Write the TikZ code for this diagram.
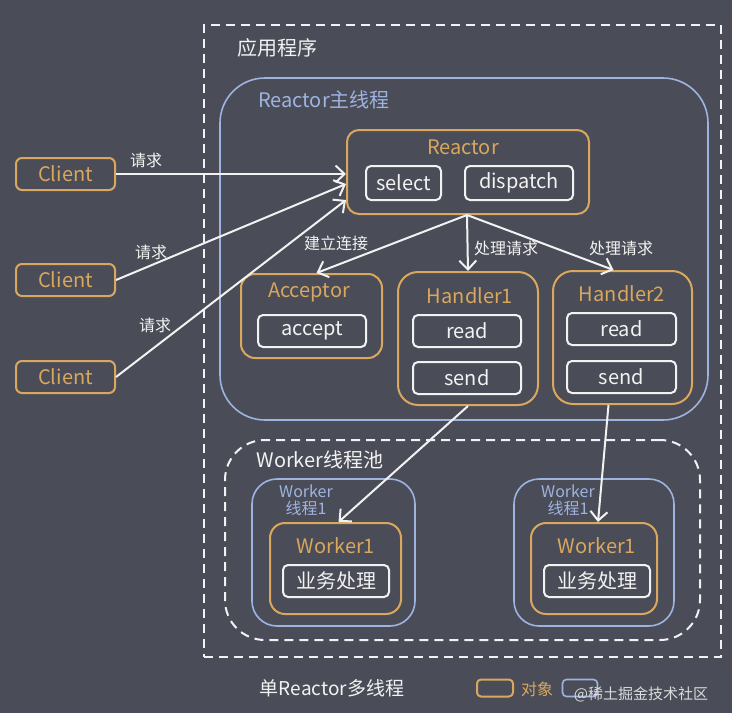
\documentclass[tikz,border=0pt]{standalone}
\usepackage{fontspec}
\setmainfont{Noto Sans CJK SC}
\usetikzlibrary{arrows.meta,calc}
\definecolor{bg}{HTML}{4A4D57}
\definecolor{org}{HTML}{D9A75E}
\definecolor{blu}{HTML}{9FB3E0}
\definecolor{wht}{HTML}{F2F2F2}
\tikzset{
  obj/.style={draw=org, line width=2pt, rounded corners=#1, inner sep=0pt},
  obj/.default=6pt,
  thr/.style={draw=blu, line width=1.6pt, rounded corners=#1, inner sep=0pt},
  sub/.style={draw=wht, line width=2pt, rounded corners=5pt, inner sep=0pt, text=wht, font=\fontsize{20}{22}\selectfont},
  dbox/.style={draw=wht, line width=2pt, dash pattern=on 9pt off 6pt, inner sep=0pt},
  otext/.style={text=org, font=\fontsize{20}{22}\selectfont},
  lbl/.style={text=wht, font=\fontsize{16}{18}\selectfont},
  arr/.style={draw=wht, line width=2pt, -{Straight Barb[length=9pt,width=17pt,line width=2pt]}},
}
\begin{document}
\begin{tikzpicture}[x=1pt,y=-1pt]
\fill[bg] (0,0) rectangle (732,726);
\fill[white] (0,713) rectangle (732,726);
\useasboundingbox (0,0) rectangle (732,726);
% application frame
\node (app) [dbox, minimum width=517pt, minimum height=632pt] at (462.5,341) {};
\node (apptitle) [text=wht, font=\fontsize{20}{22}\selectfont] at (277,48) {应用程序};
% reactor main thread
\node (main) [thr=45pt, minimum width=488pt, minimum height=342pt] at (464,249) {};
\node (maintitle) [text=blu, font=\fontsize{20}{22}\selectfont] at (324,100) {Reactor主线程};
% reactor
\node (reactor) [obj=12pt, minimum width=242pt, minimum height=84pt] at (468,172) {};
\node (reactortitle) [otext] at (463,147) {Reactor};
\node (select) [sub, minimum width=75pt, minimum height=34pt] at (403.5,183) {select};
\node (dispatch) [sub, minimum width=108pt, minimum height=34pt] at (519,183) {dispatch};
% clients
\node (c1) [obj, minimum width=99pt, minimum height=32pt, otext] at (65.5,174) {Client};
\node (c2) [obj, minimum width=99pt, minimum height=32pt, otext] at (65.5,280) {Client};
\node (c3) [obj, minimum width=99pt, minimum height=32pt, otext] at (65.5,377) {Client};
% acceptor
\node (acc) [obj=14pt, minimum width=141pt, minimum height=84pt] at (311.5,316) {};
\node (acctitle) [otext] at (309,292) {Acceptor};
\node (accept) [sub, minimum width=108pt, minimum height=32pt] at (312,331) {accept};
% handler1
\node (h1) [obj=20pt, minimum width=140pt, minimum height=133pt] at (468,338.5) {};
\node (h1title) [otext] at (470,296) {Handler1};
\node (read1) [sub, minimum width=108pt, minimum height=32pt] at (467,331) {read};
\node (send1) [sub, minimum width=108pt, minimum height=32pt] at (467,378) {send};
% handler2
\node (h2) [obj=20pt, minimum width=139pt, minimum height=133pt] at (622.5,337.5) {};
\node (h2title) [otext] at (622,294) {Handler2};
\node (read2) [sub, minimum width=109pt, minimum height=32pt] at (621.5,329) {read};
\node (send2) [sub, minimum width=109pt, minimum height=32pt] at (621.5,377) {send};
% worker pool
\node (pool) [dbox, rounded corners=40pt, minimum width=475pt, minimum height=200pt] at (462.5,540) {};
\node (pooltitle) [text=wht, font=\fontsize{20}{22}\selectfont] at (320,460) {Worker线程池};
% worker threads
\node (wt1) [thr=25pt, minimum width=163pt, minimum height=147pt] at (333.5,552.5) {};
\node (wt1title) [text=blu, font=\fontsize{16}{17}\selectfont, align=center, inner sep=0pt] at (306,500) {Worker\\线程1};
\node (wt2) [thr=25pt, minimum width=160pt, minimum height=147pt] at (594,552.5) {};
\node (wt2title) [text=blu, font=\fontsize{16}{17}\selectfont, align=center, inner sep=0pt] at (568,500) {Worker\\线程1};
\node (w1a) [obj=15pt, minimum width=131pt, minimum height=91pt] at (335.5,568.5) {};
\node (w1atitle) [otext] at (336,546) {Worker1};
\node (biz1) [sub, minimum width=106pt, minimum height=32pt] at (336,581) {业务处理};
\node (w1b) [obj=15pt, minimum width=126pt, minimum height=91pt] at (594,568.5) {};
\node (w1btitle) [otext] at (597,546) {Worker1};
\node (biz2) [sub, minimum width=106pt, minimum height=32pt] at (597,581) {业务处理};
% arrows
\draw[arr] (c1.east) -- (reactor.west |- c1.east);
\draw[arr] (c2.east) -- ($(reactor.west)+(0,12)$);
\draw[arr] (c3.east) -- ($(reactor.west)+(0,28)$);
\node (q1) [lbl] at (146,160) {请求};
\node (q2) [lbl] at (151,252) {请求};
\node (q3) [lbl] at (155,325) {请求};
\coordinate (disp) at ($(reactor.south)+(-1,0)$);
\draw[arr] (disp) -- ($(acc.north)+(5,0)$);
\draw[arr] (disp) -- (h1.north);
\draw[arr] (disp) -- ($(h2.north)+(-9,0)$);
\node (l1) [lbl] at (336,243) {建立连接};
\node (l2) [lbl] at (506,248) {处理请求};
\node (l3) [lbl] at (621,248) {处理请求};
\draw[arr] (h1.south) -- ($(w1a.north)+(3,0)$);
\draw[arr] ($(h2.south)+(-14,0)$) -- ($(w1b.north)+(4,0)$);
% legend
\node (title) [text=wht, font=\fontsize{19}{21}\selectfont] at (332,688) {单Reactor多线程};
\node (legobj) [obj=4pt, minimum width=36pt, minimum height=17pt] at (495,688) {};
\node (legobjt) [text=org, font=\fontsize{16}{18}\selectfont] at (537,689) {对象};
\node (legthr) [thr=4pt, minimum width=35pt, minimum height=17pt] at (580,688) {};
\node (wm) [text=white!80!bg, font=\fontsize{15}{17}\selectfont] at (641,694) {@稀土掘金技术社区};
\end{tikzpicture}
\end{document}
